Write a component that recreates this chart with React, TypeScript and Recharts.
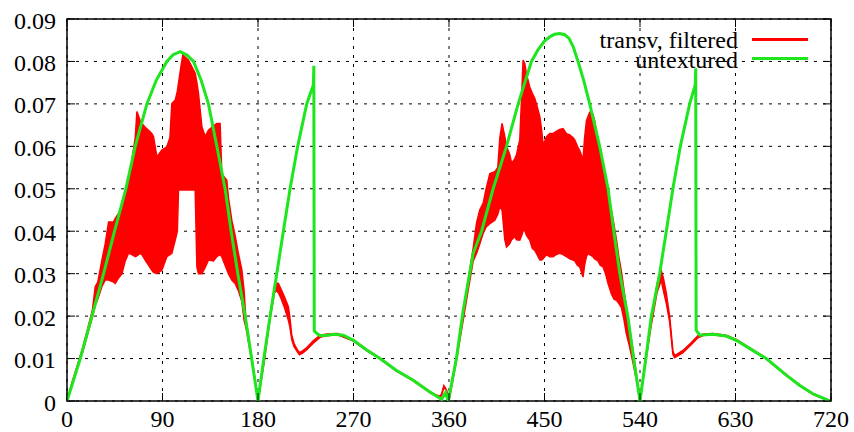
import React from "react";
import {
  ComposedChart,
  Area,
  Line,
  XAxis,
  YAxis,
  CartesianGrid,
  ReferenceArea,
  Legend,
} from "recharts";

// x ticks (degrees) and y ticks
const xTicks = [0, 90, 180, 270, 360, 450, 540, 630, 720];
const yTicks = [0, 0.01, 0.02, 0.03, 0.04, 0.05, 0.06, 0.07, 0.08, 0.09];

// "untextured" curve
const greenX = [
  0, 12.5, 23.5, 34.5, 44.8, 55.5, 64.3, 75.3, 84, 94.1, 100, 106.7, 113, 119.2, 126.5, 133.3, 141.2, 149, 154.7, 161,
  167.9, 174, 180, 185.5, 191.4, 197.7, 203.9, 210.2, 217.4, 225.9, 232.2, 232.6, 233, 235, 238.5, 245, 251, 260.4,
  270, 282.4, 295, 310.6, 326.3, 342, 353, 356.8, 359.3, 367, 373.4, 382.8, 390.7, 401.6, 414.2, 425.2, 437.7, 444,
  450, 455, 459.5, 464.4, 469, 473, 477, 481.6, 487, 492.6, 502, 509.9, 515.3, 521, 528.5, 534, 540, 545.5, 550.7,
  558.5, 564.8, 571, 578, 586.8, 592.1, 592.5, 592.9, 596.2, 608.7, 621.3, 630.7, 643.2, 659, 677.8, 690.3, 702.9,
  718.6,
];
const greenY = [
  0, 0.01, 0.02, 0.03, 0.04, 0.05, 0.06, 0.07, 0.0755, 0.08, 0.0816, 0.0823, 0.0815, 0.08, 0.0755, 0.07, 0.06, 0.05,
  0.04, 0.03, 0.02, 0.01, 0, 0.01, 0.02, 0.03, 0.04, 0.05, 0.06, 0.07, 0.0745, 0.079, 0.0165, 0.016, 0.0154, 0.0155,
  0.0157, 0.0155, 0.0143, 0.012, 0.01, 0.0072, 0.0049, 0.0021, 0.0004, 0.002, 0, 0.01, 0.0214, 0.0348, 0.04, 0.05,
  0.06, 0.07, 0.08, 0.0828, 0.0848, 0.0858, 0.0864, 0.0866, 0.0863, 0.0855, 0.0835, 0.08, 0.0755, 0.07, 0.06, 0.05,
  0.04, 0.03, 0.02, 0.01, 0, 0.01, 0.02, 0.03, 0.04, 0.05, 0.06, 0.07, 0.0745, 0.0784, 0.0167, 0.0155, 0.0157, 0.0153,
  0.0143, 0.0124, 0.01, 0.0061, 0.0037, 0.0017, 0,
];

// "transv, filtered": noisy trace, kept as lower / upper envelope
const redX = [
  0, 5, 10, 15, 20, 24, 26.6, 29, 32.9, 36, 39.2, 43.9, 45.5, 48.6, 51.8, 54.9, 58, 61.2, 64.3, 65.9, 69, 70.6, 73.7,
  76.8, 80, 81.5, 84.7, 89.4, 94.1, 97, 98.8, 102, 104, 105.1, 107.5, 109.2, 114.5, 120.8, 122.4, 123.9, 127.1, 130.2,
  133.3, 138, 141.2, 144.3, 145.9, 147.4, 150.6, 152.1, 155.3, 158.4, 161.5, 164.7, 166.9, 168.5, 174, 180, 186, 191,
  195.5, 197.5, 199.2, 202, 205, 208.6, 210, 211.8, 214, 216.5, 219, 222, 226, 232, 238.5, 245, 255, 270, 282, 295,
  310, 326, 342, 348, 351.4, 353, 355.2, 357.7, 359.3,
  360, 367, 374, 378, 382.8, 386, 389, 392.2, 395, 398.5, 403.2, 406, 407.9, 410, 412.6, 414.2, 417.3, 419, 422, 423.6,
  426.7, 428.5, 429.8, 431.4, 433, 436.1, 438.5, 440.8, 442.4, 445.6, 447.2, 448.7, 451.9, 455, 458.1, 461, 464.4,
  467.5, 470.7, 473.8, 477, 478.5, 481, 483.2, 486.3, 487.8, 489.5, 491, 492.6, 495.7, 497.3, 500.4, 502.5, 505.2,
  507.5, 509.9, 513, 515.5, 517.8, 520, 522.5, 525, 527, 530, 533.4, 537, 540, 545.5, 550.7, 556, 558, 560, 562, 564.8,
  568, 571, 572.6, 576, 580.5, 588.4, 594.6, 600, 608.7, 621.3, 630.7, 643.2, 659, 677.8, 690.3, 702.9, 718.6,
];
const redLo = [
  0, 0.004, 0.0079, 0.0118, 0.0163, 0.0198, 0.0225, 0.024, 0.027, 0.0285, 0.0285, 0.028, 0.0277, 0.029, 0.03, 0.033,
  0.0348, 0.0345, 0.034, 0.0342, 0.0348, 0.0345, 0.0332, 0.032, 0.0308, 0.0303, 0.03, 0.0308, 0.034, 0.0345, 0.0348,
  0.0379, 0.04, 0.0497, 0.0497, 0.0497, 0.0497, 0.0497, 0.0316, 0.03, 0.03, 0.0315, 0.0332, 0.033, 0.034, 0.0345, 0.034,
  0.033, 0.031, 0.03, 0.0285, 0.0277, 0.026, 0.0235, 0.019, 0.0175, 0.0097, 0, 0.0095, 0.0188, 0.0255, 0.026, 0.0255,
  0.024, 0.022, 0.019, 0.0175, 0.0145, 0.0128, 0.0118, 0.0109, 0.0113, 0.0121, 0.0136, 0.015, 0.0154, 0.0156, 0.0141,
  0.0119, 0.0099, 0.0071, 0.0048, 0.002, 0.0012, 0.0009, 0.0014, 0.0033, 0.0023, 0.0002,
  0, 0.0095, 0.02, 0.026, 0.033, 0.0348, 0.037, 0.0395, 0.041, 0.0418, 0.0426, 0.044, 0.0458, 0.045, 0.038, 0.0363,
  0.0371, 0.038, 0.0387, 0.038, 0.0379, 0.039, 0.04, 0.0403, 0.039, 0.0379, 0.036, 0.0355, 0.0348, 0.0332, 0.0332,
  0.0335, 0.0345, 0.034, 0.034, 0.0345, 0.0348, 0.0345, 0.034, 0.0335, 0.0332, 0.033, 0.032, 0.0316, 0.0292, 0.032,
  0.034, 0.0348, 0.0345, 0.034, 0.0335, 0.033, 0.032, 0.0316, 0.03, 0.0277, 0.0253, 0.024, 0.0237, 0.023, 0.022, 0.019,
  0.016, 0.013, 0.009, 0.0045, 0, 0.0095, 0.018, 0.0255, 0.027, 0.0285, 0.026, 0.023, 0.0185, 0.011, 0.0102, 0.0107,
  0.0114, 0.0133, 0.0149, 0.0155, 0.0156, 0.0152, 0.0142, 0.0123, 0.0099, 0.006, 0.0036, 0.0016, 0,
];
const redHi = [
  0, 0.0046, 0.0086, 0.0127, 0.0175, 0.0215, 0.0269, 0.028, 0.0332, 0.037, 0.0422, 0.0422, 0.043, 0.0442, 0.046,
  0.0481, 0.052, 0.0568, 0.062, 0.0682, 0.066, 0.0654, 0.0645, 0.0638, 0.063, 0.0623, 0.0575, 0.0591, 0.0599, 0.062,
  0.0701, 0.0709, 0.073, 0.0749, 0.079, 0.0815, 0.0803, 0.0772, 0.075, 0.0725, 0.0646, 0.0623, 0.0638, 0.0648, 0.0654,
  0.0654, 0.0536, 0.053, 0.052, 0.048, 0.0426, 0.039, 0.0348, 0.031, 0.026, 0.0195, 0.0102, 0.0003, 0.0102, 0.0195,
  0.027, 0.0278, 0.0277, 0.0262, 0.0245, 0.0222, 0.0198, 0.0155, 0.0135, 0.0123, 0.0114, 0.0118, 0.0126, 0.0142,
  0.0155, 0.0158, 0.0159, 0.0144, 0.0122, 0.0101, 0.0073, 0.005, 0.0022, 0.0014, 0.0011, 0.0016, 0.0036, 0.0026,
  0.0004,
  0.0005, 0.0105, 0.022, 0.0285, 0.036, 0.042, 0.045, 0.0466, 0.05, 0.0536, 0.054, 0.055, 0.062, 0.0654, 0.0623, 0.06,
  0.058, 0.056, 0.057, 0.058, 0.0615, 0.072, 0.0803, 0.0795, 0.077, 0.074, 0.0725, 0.0713, 0.07, 0.067, 0.064, 0.0603,
  0.0623, 0.063, 0.063, 0.0635, 0.064, 0.0642, 0.063, 0.0627, 0.062, 0.0615, 0.06, 0.059, 0.0568, 0.062, 0.066, 0.067,
  0.068, 0.0675, 0.066, 0.0615, 0.058, 0.054, 0.052, 0.0495, 0.045, 0.0415, 0.038, 0.034, 0.0305, 0.026, 0.0225,
  0.0175, 0.012, 0.0055, 0.0005, 0.0103, 0.019, 0.0275, 0.0295, 0.0308, 0.029, 0.0254, 0.0198, 0.0118, 0.0107, 0.0112,
  0.0119, 0.0138, 0.0154, 0.0158, 0.0159, 0.0155, 0.0145, 0.0126, 0.0101, 0.0062, 0.0038, 0.0018, 0.0002,
];

const legendLabels = ["transv, filtered", "untextured"];

const RED = "#ff0000";
const GREEN = "#1ee61e";
const FONT = "Liberation Serif, DejaVu Serif, serif";

const W = 854;
const H = 432;
const PLOT_LEFT = 67;
const PLOT_RIGHT = 831;
const PLOT_TOP = 19;
const PLOT_BOTTOM = 401;
const TICK_LEN = 8;

const greenRows = greenX.map((x, i) => ({ x, g: greenY[i] }));
const redRows = redX.map((x, i) => ({ x, r: [redLo[i], redHi[i]] }));

function XTick(props: any) {
  const { x, payload } = props;
  return (
    <g>
      <line x1={x} x2={x} y1={PLOT_BOTTOM} y2={PLOT_BOTTOM - TICK_LEN} stroke="#000" />
      <line x1={x} x2={x} y1={PLOT_TOP} y2={PLOT_TOP + TICK_LEN} stroke="#000" />
      <text x={x} y={PLOT_BOTTOM + 26} textAnchor="middle" style={{ fontFamily: FONT, fontSize: 24 }} fill="#000">
        {payload.value}
      </text>
    </g>
  );
}

function YTick(props: any) {
  const { y, payload } = props;
  return (
    <g>
      <line x1={PLOT_LEFT} x2={PLOT_LEFT + TICK_LEN} y1={y} y2={y} stroke="#000" />
      <line x1={PLOT_RIGHT} x2={PLOT_RIGHT - TICK_LEN} y1={y} y2={y} stroke="#000" />
      <text x={PLOT_LEFT - 11} y={y + 9.5} textAnchor="end" style={{ fontFamily: FONT, fontSize: 24 }} fill="#000">
        {String(payload.value)}
      </text>
    </g>
  );
}

function KeyBox() {
  const colors = [RED, GREEN];
  return (
    <div style={{ position: "relative", width: W, height: 0 }}>
      {legendLabels.map((label, i) => (
        <React.Fragment key={label}>
          <div
            style={{
              position: "absolute",
              right: W - 738,
              top: 29.6 + i * 20,
              fontFamily: FONT,
              fontSize: 24,
              lineHeight: "20px",
              whiteSpace: "nowrap",
              color: "#000",
            }}
          >
            {label}
          </div>
          <div
            style={{
              position: "absolute",
              left: 752,
              width: 56,
              top: 38 + i * 19,
              height: 2.5,
              background: colors[i],
            }}
          />
        </React.Fragment>
      ))}
    </div>
  );
}

export default function App() {
  return (
    <div style={{ position: "absolute", left: 0, top: 0, width: W, height: H, background: "#fff" }}>
      <ComposedChart width={W} height={H} margin={{ top: PLOT_TOP, right: W - PLOT_RIGHT, left: 0, bottom: 0 }}>
        <CartesianGrid stroke="#000" strokeDasharray="3 6" strokeWidth={1} />
        <XAxis
          dataKey="x"
          type="number"
          domain={[0, 720]}
          ticks={xTicks}
          height={H - PLOT_BOTTOM}
          axisLine={false}
          tickLine={false}
          tickSize={0}
          tick={<XTick />}
          allowDataOverflow
        />
        <YAxis
          type="number"
          domain={[0, 0.09]}
          ticks={yTicks}
          width={PLOT_LEFT}
          axisLine={false}
          tickLine={false}
          tickSize={0}
          tick={<YTick />}
          allowDataOverflow
        />
        <Legend
          layout="horizontal"
          verticalAlign="middle"
          align="center"
          wrapperStyle={{ position: "absolute", left: 0, top: 0, width: W, height: 0 }}
          content={() => <KeyBox />}
        />
        <Area
          data={redRows}
          dataKey="r"
          type="linear"
          stroke={RED}
          strokeWidth={1.5}
          fill={RED}
          fillOpacity={1}
          dot={false}
          activeDot={false}
          isAnimationActive={false}
        />
        <Line
          data={greenRows}
          dataKey="g"
          type="linear"
          stroke={GREEN}
          strokeWidth={3}
          dot={false}
          activeDot={false}
          isAnimationActive={false}
        />
        <ReferenceArea x1={0} x2={720} y1={0} y2={0.09} fill="none" stroke="#000" strokeWidth={1.5} ifOverflow="visible" />
      </ComposedChart>
    </div>
  );
}
